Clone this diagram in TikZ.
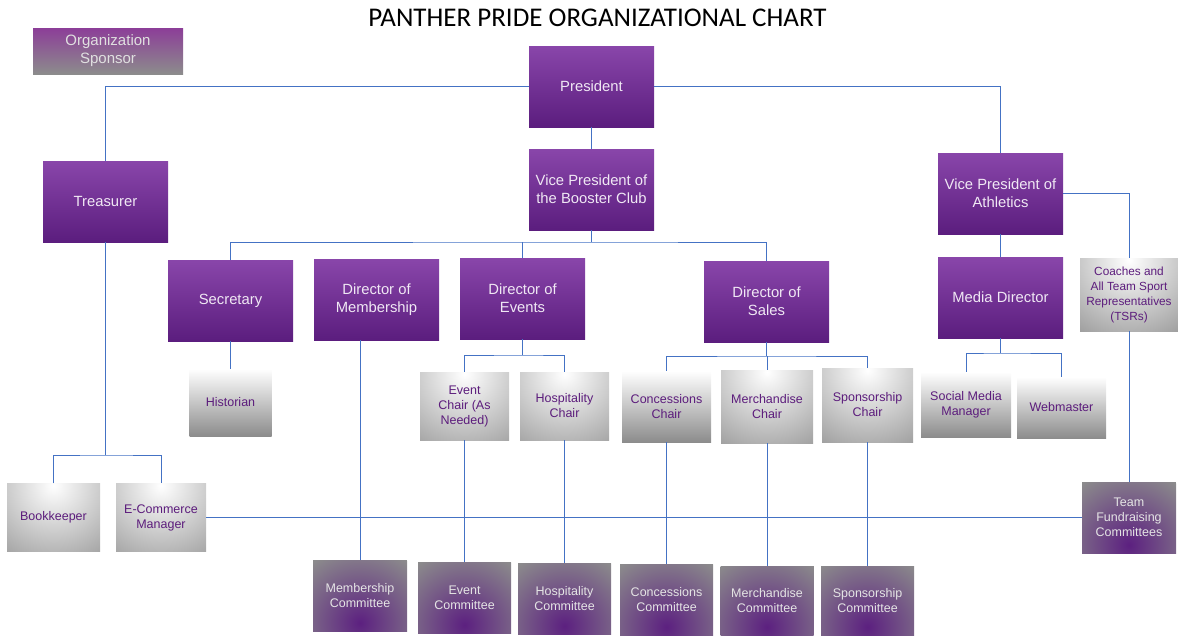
\documentclass[tikz,border=0pt]{standalone}
\usepackage{fontspec}
\setmainfont{Liberation Sans}
\newfontfamily\titlefont{Carlito}
\usepackage{tikz}

\definecolor{linkblue}{RGB}{68,114,196}
\definecolor{purptop}{RGB}{137,70,170}
\definecolor{purpmid}{RGB}{118,54,152}
\definecolor{purpbot}{RGB}{91,29,126}
\definecolor{purptext}{RGB}{92,28,124}
\definecolor{paletext}{RGB}{240,232,244}
\definecolor{boxgray}{RGB}{140,140,140}
\definecolor{comgray}{RGB}{140,140,140}
\definecolor{compurp}{RGB}{92,32,128}
\definecolor{sponsortop}{RGB}{140,62,152}

\tikzset{
    conn/.style={draw=linkblue, line width=1pt},
    officer/.style={rectangle, inner sep=0pt, minimum width=125pt, minimum height=81pt,
        top color=purptop, middle color=purpmid, bottom color=purpbot,
        text=paletext, align=center, font=\fontsize{14.8}{17.8}\selectfont},
    fadebox/.style={rectangle, inner sep=0pt, top color=white, middle color=white!75!boxgray,
        bottom color=boxgray, text=purptext, align=center, font=\fontsize{12.5}{15}\selectfont},
    glowbox/.style={rectangle, inner sep=0pt, fill=boxgray, text=purptext, align=center,
        font=\fontsize{12.5}{15}\selectfont,
        path picture={\shade[inner color=white, outer color=boxgray]
            ([yshift=-2pt]path picture bounding box.north) circle (104pt);}},
    committee/.style={rectangle, inner sep=0pt, fill=comgray, text=white!90!black, align=center,
        font=\fontsize{12.5}{15}\selectfont,
        path picture={\shade[inner color=compurp, outer color=comgray]
            ([yshift=8pt]path picture bounding box.south) circle (78pt);}},
}

\begin{document}
\begin{tikzpicture}[x=1pt,y=1pt]
    \useasboundingbox (0,0) rectangle (1178,-635);

    \node (title) at (597.5,-18) {\titlefont\fontsize{27}{30}\selectfont PANTHER PRIDE ORGANIZATIONAL CHART};
    \node[rectangle, inner sep=0pt, minimum width=150pt, minimum height=46pt,
        top color=sponsortop, middle color=boxgray!80!sponsortop, bottom color=boxgray,
        text=white!88!black, align=center, font=\fontsize{15}{18}\selectfont]
        (sponsor) at (108,-51) {Organization\\Sponsor};

    % officers
    \node[officer] (pres) at (591.5,-86.5) {President};
    \node[officer] (vpb) at (591.5,-189.5) {Vice President of\\the Booster Club};
    \node[officer] (treas) at (105.5,-201.5) {Treasurer};
    \node[officer] (vpa) at (1000.5,-193.5) {Vice President of\\Athletics};
    \node[officer] (sec) at (230.5,-300.5) {Secretary};
    \node[officer] (mem) at (376.5,-299.5) {Director of\\Membership};
    \node[officer] (evt) at (522.5,-298.5) {Director of\\Events};
    \node[officer] (sales) at (766.5,-301.5) {Director of\\Sales};
    \node[officer] (media) at (1000.5,-297.5) {Media Director};
    \node[glowbox, minimum width=98pt, minimum height=73pt, font=\fontsize{11.8}{15}\selectfont]
        (coach) at (1129,-294.5) {Coaches and\\All Team Sport\\Representatives\\(TSRs)};

    % chairs
    \node[fadebox, minimum width=82pt, minimum height=67pt] (hist) at (230.5,-402.5) {Historian};
    \node[glowbox, minimum width=89pt, minimum height=68pt] (echair) at (464.5,-406) {Event\\Chair (As\\Needed)};
    \node[glowbox, minimum width=89pt, minimum height=68pt] (hchair) at (564.5,-406) {Hospitality\\Chair};
    \node[fadebox, minimum width=89pt, minimum height=71pt] (cchair) at (666.5,-406.5) {Concessions\\Chair};
    \node[glowbox, minimum width=92pt, minimum height=73pt] (mchair) at (767,-406.5) {Merchandise\\Chair};
    \node[glowbox, minimum width=91pt, minimum height=74pt] (schair) at (867.5,-405) {Sponsorship\\Chair};
    \node[fadebox, minimum width=90pt, minimum height=65pt] (smm) at (966,-404.5) {Social Media\\Manager};
    \node[fadebox, minimum width=89pt, minimum height=61pt] (web) at (1061.5,-407.5) {Webmaster};
    \node[glowbox, minimum width=93pt, minimum height=68pt] (book) at (53.5,-517.5) {Bookkeeper};
    \node[glowbox, minimum width=90pt, minimum height=68pt] (ecom) at (161,-517.5) {E-Commerce\\Manager};

    % committees
    \node[committee, minimum width=94pt, minimum height=71pt] (tfc) at (1129,-517.5) {Team\\Fundraising\\Committees};
    \node[committee, minimum width=94pt, minimum height=71pt] (memc) at (360,-595.5) {Membership\\Committee};
    \node[committee, minimum width=93pt, minimum height=71pt] (evc) at (464.5,-597.5) {Event\\Committee};
    \node[committee, minimum width=93pt, minimum height=71pt] (hosc) at (564.5,-598.5) {Hospitality\\Committee};
    \node[committee, minimum width=93pt, minimum height=71pt] (conc) at (666.5,-599.5) {Concessions\\Committee};
    \node[committee, minimum width=93pt, minimum height=69pt] (merc) at (767,-600.5) {Merchandise\\Committee};
    \node[committee, minimum width=93pt, minimum height=69pt] (spoc) at (867.5,-600.5) {Sponsorship\\Committee};

    \coordinate (boosterbar) at (591.5,-242);
    \coordinate (treasbar) at (105.5,-455);
    \coordinate (eventbar) at (522.5,-355);
    \coordinate (salesbar) at (766.5,-356);
    \coordinate (mediabar) at (1000.5,-353);

    % lines
    \draw[conn] (pres.west) -| (treas.north);
    \draw[conn] (pres.east) -| (vpa.north);
    \draw[conn] (pres) -- (vpb);
    \draw[conn] (vpb.south) -- (boosterbar);
    \draw[conn] (sec.north) |- (boosterbar) -| (sales.north);
    \draw[conn] (evt.north) -- (evt.north |- boosterbar);
    \draw[conn] (vpa) -- (media);
    \draw[conn] (vpa.east) -| (coach.north);
    \draw[conn] (coach) -- (tfc);
    \draw[conn] (treas.south) -- (treasbar);
    \draw[conn] (book.north) |- (treasbar) -| (ecom.north);
    \draw[conn] (ecom) -- (tfc);
    \draw[conn] (sec) -- (hist);
    \draw[conn] (memc.north) -- (memc.north |- mem.south);
    \draw[conn] (evt.south) -- (eventbar);
    \draw[conn] (echair.north) |- (eventbar) -| (hchair.north);
    \draw[conn] (sales.south) -- (salesbar);
    \draw[conn] (cchair.north) |- (salesbar) -| (schair.north);
    \draw[conn] (mchair.north) -- (mchair.north |- salesbar);
    \draw[conn] (media.south) -- (mediabar);
    \draw[conn] (smm.north) |- (mediabar) -| (web.north);
    \draw[conn] (echair) -- (evc);
    \draw[conn] (hchair) -- (hosc);
    \draw[conn] (cchair) -- (conc);
    \draw[conn] (mchair) -- (merc);
    \draw[conn] (schair) -- (spoc);
\end{tikzpicture}
\end{document}
